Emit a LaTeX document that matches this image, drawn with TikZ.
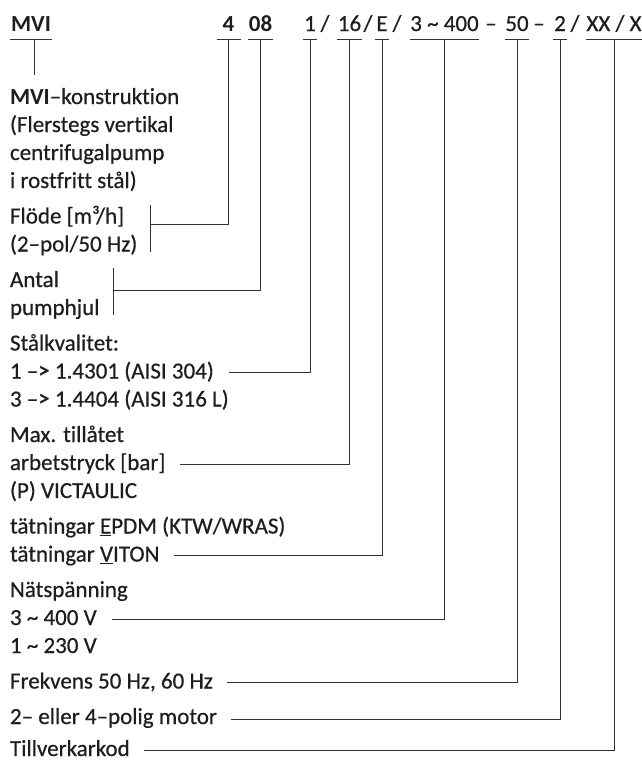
\documentclass[tikz,border=0pt]{standalone}
\usepackage{fontspec}
\setmainfont{Carlito}[Ligatures=NoCommon, UprightFeatures={FakeBold=0.5}]
\usetikzlibrary{calc}
\definecolor{ink}{HTML}{1E1E1E}
\definecolor{rule}{HTML}{333333}
\begin{document}
\begin{tikzpicture}[x=1pt,y=-1pt,
  txt/.style={inner sep=0pt, outer sep=0pt, anchor=base west, text=ink, font=\fontsize{23}{28}\selectfont},
  tok/.style={inner sep=0pt, outer sep=0pt, anchor=base, text=ink, font=\fontsize{23}{28}\selectfont},
  tokb/.style={tok, font=\fontsize{23}{28}\selectfont\bfseries},
  ln/.style={draw=rule, line width=0.9pt},
  ul/.style={ln}]
\fill[white] (0,0) rectangle (642,761);
\useasboundingbox (0,0) rectangle (642,761);

% ---- top code row ----
\node[tokb, minimum width=42pt] (tMVI) at (31,31) {MVI};
\node[tokb, minimum width=24pt] (t4) at (228.5,31) {4};
\node[tokb, minimum width=25pt] (t08) at (260.5,31) {08};
\node[tok, minimum width=14pt] (t1) at (310,31) {1};
\node[tok] (s1) at (325,31) {/};
\node[tok, minimum width=25pt] (t16) at (349.5,31) {16};
\node[tok] (s2) at (368,31) {/};
\node[tok, minimum width=14pt] (tE) at (382,31) {E};
\node[tok] (s3) at (397,31) {/};
\node[tok, minimum width=69pt] (t3400) at (444.5,31) {3 \textasciitilde{} 400};
\node[tok] (s4) at (491,31) {–};
\node[tok, minimum width=24pt] (t50) at (517,31) {50};
\node[tok] (s5) at (539,31) {–};
\node[tok, minimum width=14pt] (t2) at (560,31) {2};
\node[tok] (s6) at (575,31) {/};
\node[tok, minimum width=56pt] (tXX) at (614,31) {XX / X};

% underlines
\foreach \t in {tMVI,t4,t08,t1,t16,tE,t3400,t50,t2,tXX}
  \draw[ul] ([yshift=-8pt]\t.base west) -- ([yshift=-8pt]\t.base east);

% ---- labels ----
\node[txt] (lA1) at (10,104) {\textbf{MVI}–konstruktion};
\node[txt] (lA2) at (10,132) {(Flerstegs vertikal};
\node[txt] (lA3) at (10,160) {centrifugalpump};
\node[txt] (lA4) at (10,188) {i rostfritt stål)};
\node[txt] (lB1) at (10,223.5) {Flöde [m³/h]};
\node[txt] (lB2) at (10,251.5) {(2–pol/50 Hz)};
\node[txt] (lC1) at (10,287) {Antal};
\node[txt] (lC2) at (10,315) {pumphjul};
\node[txt] (lD1) at (10,350.5) {Stålkvalitet:};
\node[txt] (lD2) at (10,378.5) {1 –\textbf{>} 1.4301 (AISI 304)};
\node[txt] (lD3) at (10,406.5) {3 –\textbf{>} 1.4404 (AISI 316 L)};
\node[txt] (lE1) at (10,442) {Max. tillåtet};
\node[txt] (lE2) at (10,470) {arbetstryck [bar]};
\node[txt] (lE3) at (10,498) {(P) VICTAULIC};
\node[txt] (lF1) at (10,533.5) {tätningar \underline{E}PDM (KTW/WRAS)};
\node[txt] (lF2) at (10,561.5) {tätningar \underline{V}ITON};
\node[txt] (lG1) at (10,597) {Nätspänning};
\node[txt] (lG2) at (10,625) {3 \textasciitilde{} 400 V};
\node[txt] (lG3) at (10,653) {1 \textasciitilde{} 230 V};
\node[txt] (lH) at (10,688.5) {Frekvens 50 Hz, 60 Hz};
\node[txt] (lI) at (10,724) {2– eller 4–polig motor};
\node[txt] (lJ) at (10,756) {Tillverkarkod};

% ---- MVI stub ----
\coordinate (cMVI) at (34,75);
\draw[ln] ([xshift=3pt,yshift=-8pt]tMVI.base) -- (cMVI);

% ---- bracket for Flöde ----
\coordinate (bBtop) at ($(lB2.base east)+(13,-18.5)-(0,28)$);
\coordinate (bBbot) at ($(lB2.base east)+(13,0)$);
\draw[ln] (bBtop) -- (bBbot);
\coordinate (bBmid) at ($(bBtop)!0.42!(bBbot)$);
\draw[ln] ([yshift=-8pt]t4.base) |- (bBmid);

% ---- bracket for Antal ----
\coordinate (bCtop) at ($(lC2.base east)+(14,-19)-(0,28)$);
\coordinate (bCbot) at ($(lC2.base east)+(14,0)$);
\draw[ln] (bCtop) -- (bCbot);
\coordinate (bCmid) at ($(bCtop)!0.47!(bCbot)$);
\draw[ln] ([yshift=-8pt]t08.base) |- (bCmid);

% ---- leader lines ----
\draw[ln] ([yshift=-8pt]t1.base) |- ([xshift=15pt,yshift=6pt]lD2.base east);
\draw[ln] ([yshift=-8pt]t16.base) |- ([xshift=15pt,yshift=6pt]lE2.base east);
\draw[ln] ([yshift=-8pt]tE.base) |- ([xshift=15pt,yshift=6pt]lF2.base east);
\draw[ln] ([yshift=-8pt]t3400.base) |- ([xshift=15pt,yshift=6pt]lG2.base east);
\draw[ln] ([yshift=-8pt]t50.base) |- ([xshift=14pt,yshift=6pt]lH.base east);
\draw[ln] ([yshift=-8pt]t2.base) |- ([xshift=14pt,yshift=5pt]lI.base east);
\draw[ln] ([yshift=-8pt]tXX.base) |- ([xshift=14pt,yshift=5.5pt]lJ.base east);
\end{tikzpicture}
\end{document}
